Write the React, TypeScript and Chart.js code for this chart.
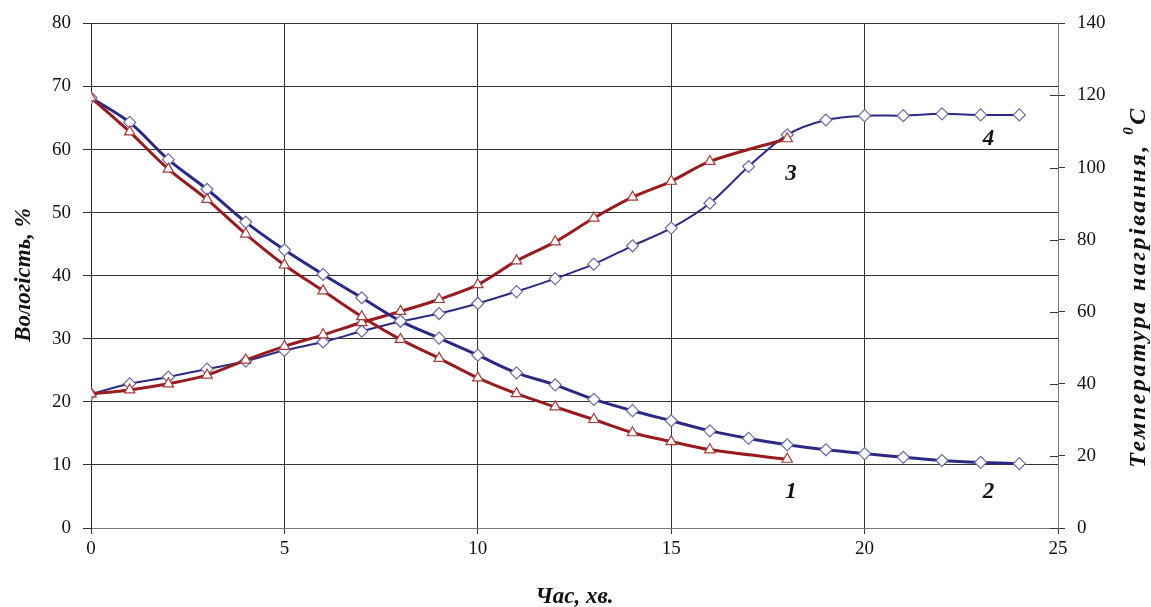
import React, { useEffect, useRef } from "react";
import { Chart, registerables } from "chart.js";

Chart.register(...registerables);

// time, minutes
const minutesFull = [0, 1, 2, 3, 4, 5, 6, 7, 8, 9, 10, 11, 12, 13, 14, 15, 16, 17, 18, 19, 20, 21, 22, 23, 24];
const minutesShort = [0, 1, 2, 3, 4, 5, 6, 7, 8, 9, 10, 11, 12, 13, 14, 15, 16, 18];

// moisture, % (left axis)
const moisture1 = [68.2, 62.8, 56.9, 52.1, 46.6, 41.7, 37.6, 33.5, 29.9, 26.9, 23.8, 21.3, 19.2, 17.2, 15.1, 13.7, 12.4, 10.9];
const moisture2 = [68.2, 64.3, 58.4, 53.7, 48.5, 44.1, 40.2, 36.5, 32.8, 30.1, 27.4, 24.6, 22.7, 20.4, 18.6, 17.0, 15.4, 14.2, 13.2, 12.4, 11.8, 11.2, 10.7, 10.4, 10.2];

// heating temperature, °C (right axis)
const temp3 = [37.2, 38.3, 40.0, 42.4, 46.6, 50.4, 53.6, 57.0, 60.1, 63.4, 67.5, 74.1, 79.4, 86.0, 91.8, 96.2, 101.7, 108.0];
const temp4 = [37.2, 40.0, 41.9, 44.1, 46.3, 49.3, 51.6, 54.6, 57.3, 59.5, 62.3, 65.6, 69.2, 73.2, 78.3, 83.2, 90.1, 100.3, 109.1, 113.2, 114.4, 114.4, 114.9, 114.6, 114.6];

// curve number labels (x in minutes, y in left-axis units)
const curveLabels = ["1", "2", "3", "4"];
const curveLabelX = [18.1, 23.2, 18.1, 23.2];
const curveLabelY = [5.7, 5.7, 56.1, 61.6];

const xTitle = "Час, хв.";
const yLeftTitle = "Вологість, %";
const yRightTitle = "Температура нагрівання, ";

const RED = "#981c1f";
const BLUE = "#2a2a85";
const RED_MARK = "#a83a3a";
const BLUE_MARK = "#6a6aa8";
const SERIF = '"Liberation Serif", "DejaVu Serif", serif';

const pts = (xs: number[], ys: number[]) => xs.map((x, i) => ({ x, y: ys[i] }));

const overlayPlugin = {
  id: "overlay",
  afterDraw(chart: any) {
    const ctx = chart.ctx;
    const xs = chart.scales.x;
    const yl = chart.scales.y;
    const yr = chart.scales.y1;
    const area = chart.chartArea;
    ctx.save();
    // right axis tick marks crossing inward
    ctx.strokeStyle = "#333";
    ctx.lineWidth = 1;
    yr.ticks.forEach((t: any) => {
      const py = Math.round(yr.getPixelForValue(t.value)) + 0.5;
      ctx.beginPath();
      ctx.moveTo(area.right - 8, py);
      ctx.lineTo(area.right, py);
      ctx.stroke();
    });
    // curve numbers
    ctx.fillStyle = "#111";
    ctx.font = `bold italic 23px ${SERIF}`;
    ctx.textAlign = "center";
    ctx.textBaseline = "middle";
    curveLabels.forEach((s, i) => {
      ctx.fillText(s, xs.getPixelForValue(curveLabelX[i]), yl.getPixelForValue(curveLabelY[i]));
    });
    // x title
    ctx.font = `bold italic 23px ${SERIF}`;
    ctx.fillText(xTitle, (area.left + area.right) / 2 + 0, 597);
    // left title
    ctx.save();
    ctx.translate(24, 275);
    ctx.rotate(-Math.PI / 2);
    ctx.font = `bold italic 23px ${SERIF}`;
    ctx.fillText(yLeftTitle, 0, 0);
    ctx.restore();
    // right title with superscript 0
    ctx.save();
    ctx.translate(1139, 287);
    ctx.rotate(-Math.PI / 2);
    const mainFont = `bold italic 24px ${SERIF}`;
    const supFont = `bold italic 15px ${SERIF}`;
    (ctx as any).letterSpacing = "2.5px";
    ctx.font = mainFont;
    const w1 = ctx.measureText(yRightTitle).width;
    const w3 = ctx.measureText("C").width;
    ctx.font = supFont;
    const w2 = ctx.measureText("0").width;
    const total = w1 + w2 + w3;
    let cx = -total / 2;
    ctx.textAlign = "left";
    ctx.font = mainFont;
    ctx.fillText(yRightTitle, cx, 0);
    cx += w1;
    ctx.font = supFont;
    ctx.fillText("0", cx, -10);
    cx += w2;
    ctx.font = mainFont;
    ctx.fillText("C", cx, 0);
    (ctx as any).letterSpacing = "0px";
    ctx.restore();
    ctx.restore();
  },
};

export default function App() {
  const ref = useRef<HTMLCanvasElement | null>(null);
  useEffect(() => {
    if (!ref.current) return;
    const lineCommon = {
      pointBackgroundColor: "#ffffff",
      pointBorderWidth: 1.2,
      tension: 0.3,
      fill: false,
    };
    const chart = new Chart(ref.current, {
      type: "line",
      data: {
        datasets: [
          {
            ...lineCommon,
            label: "1",
            data: pts(minutesShort, moisture1),
            borderColor: RED,
            borderWidth: 3,
            pointStyle: "triangle",
            pointRadius: 6,
            pointBorderColor: RED_MARK,
            yAxisID: "y",
          },
          {
            ...lineCommon,
            label: "2",
            data: pts(minutesFull, moisture2),
            borderColor: BLUE,
            borderWidth: 3,
            pointStyle: "rectRot",
            pointRadius: 6,
            pointBorderColor: BLUE_MARK,
            yAxisID: "y",
          },
          {
            ...lineCommon,
            label: "3",
            data: pts(minutesShort, temp3),
            borderColor: RED,
            borderWidth: 3,
            pointStyle: "triangle",
            pointRadius: 6,
            pointBorderColor: RED_MARK,
            yAxisID: "y1",
          },
          {
            ...lineCommon,
            label: "4",
            data: pts(minutesFull, temp4),
            borderColor: BLUE,
            borderWidth: 2,
            pointStyle: "rectRot",
            pointRadius: 6,
            pointBorderColor: BLUE_MARK,
            yAxisID: "y1",
          },
        ],
      },
      options: {
        responsive: false,
        animation: false,
        layout: { padding: { top: 20, left: 0, right: 0, bottom: 0 } },
        plugins: { legend: { display: false }, tooltip: { enabled: false } },
        scales: {
          x: {
            type: "linear",
            min: 0,
            max: 25,
            afterFit: (s: any) => {
              s.height = 79;
            },
            ticks: { stepSize: 5, color: "#111", font: { family: SERIF, size: 19 }, padding: 4, maxRotation: 0 },
            grid: { color: "#333", lineWidth: 1, tickLength: 6 },
            border: { display: true, color: "#777" },
          },
          y: {
            type: "linear",
            position: "left",
            min: 0,
            max: 80,
            afterFit: (s: any) => {
              s.width = 91;
            },
            ticks: { stepSize: 10, color: "#111", font: { family: SERIF, size: 19 }, padding: 12 },
            grid: { color: "#333", lineWidth: 1, tickLength: 8 },
            border: { display: true, color: "#222" },
          },
          y1: {
            type: "linear",
            position: "right",
            min: 0,
            max: 140,
            afterFit: (s: any) => {
              s.width = 93;
            },
            ticks: { stepSize: 20, color: "#111", font: { family: SERIF, size: 19 }, padding: 12 },
            grid: { drawOnChartArea: false, color: "#333", lineWidth: 1, tickLength: 7 },
            border: { display: true, color: "#777" },
          },
        },
      },
      plugins: [overlayPlugin],
    } as any);
    return () => chart.destroy();
  }, []);
  return (
    <div style={{ position: "absolute", left: 0, top: 0, width: 1151, height: 607, background: "#fff" }}>
      <canvas ref={ref} width={1151} height={607} style={{ display: "block" }} />
    </div>
  );
}
